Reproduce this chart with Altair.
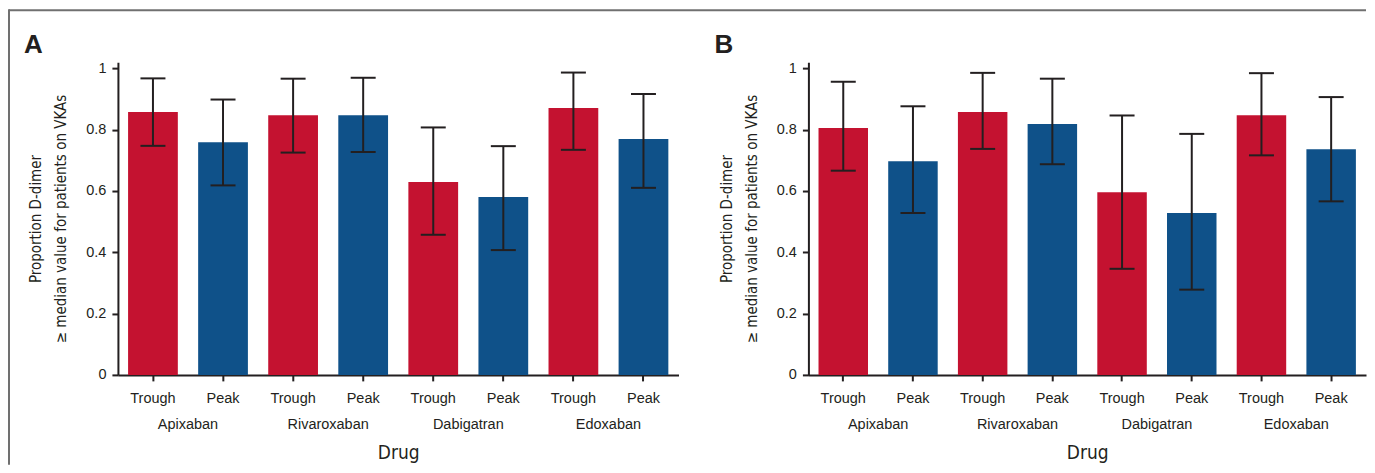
import altair as alt
import pandas as pd

# ---- data ----
drugs = ["Apixaban", "Rivaroxaban", "Dabigatran", "Edoxaban"]
phases = ["Trough", "Peak"]
y_ticks = [0, 0.2, 0.4, 0.6, 0.8, 1]
panel_letters = ["A", "B"]

a_val = [0.857, 0.759, 0.847, 0.847, 0.629, 0.580, 0.870, 0.769]
a_lo = [0.747, 0.618, 0.725, 0.727, 0.457, 0.407, 0.734, 0.610]
a_hi = [0.967, 0.898, 0.966, 0.969, 0.807, 0.746, 0.986, 0.916]

b_val = [0.805, 0.697, 0.857, 0.818, 0.596, 0.528, 0.847, 0.736]
b_lo = [0.666, 0.528, 0.737, 0.687, 0.346, 0.278, 0.716, 0.566]
b_hi = [0.956, 0.876, 0.985, 0.966, 0.846, 0.786, 0.984, 0.906]

y_title = ["Proportion D-dimer", "\u2265 median value for patients on VKAs"]

# ---- styles ----
RED = "#c41230"
BLUE = "#0f5189"
INK = "#231f20"
FRAME = "#707070"
SANS = "Liberation Sans, Arial, Helvetica, sans-serif"
NARROW = "Liberation Sans Narrow, DejaVu Sans Condensed, Roboto Condensed, sans-serif"
H = 313

cats = [f"{d} {p}" for d in drugs for p in phases]


def panel(vals, lo, hi, letter, width, frame):
    df = pd.DataFrame({
        "cat": cats,
        "drug": [d for d in drugs for _ in phases],
        "phase": phases * len(drugs),
        "val": vals,
        "lo": lo,
        "hi": hi,
    })
    xscale = alt.Scale(domain=cats, paddingInner=0.29, paddingOuter=0.145)
    xaxis = alt.Axis(title="Drug", labelExpr="split(datum.label, ' ')[1]",
                     labelAngle=0, labelPadding=11, titlePadding=38,
                     titleFontSize=19)
    yscale = alt.Scale(domain=[0, 1.02], nice=False)
    yaxis = alt.Axis(values=y_ticks, format="~g", title=y_title,
                     titleFontSize=15, titleLineHeight=25, titlePadding=17,
                     labelPadding=6)

    def X():
        return alt.X("cat:N", sort=cats, scale=xscale, axis=xaxis)

    base = alt.Chart(df)
    bars = base.mark_bar().encode(
        x=X(),
        y=alt.Y("val:Q", scale=yscale, axis=yaxis),
        color=alt.Color("phase:N", scale=alt.Scale(domain=phases, range=[RED, BLUE]), legend=None),
    )
    stem = base.mark_rule(color=INK, strokeWidth=2).encode(
        x=X(), y=alt.Y("lo:Q", scale=yscale, axis=yaxis), y2="hi:Q")
    cap_lo = base.mark_tick(color=INK, thickness=2, size=25, opacity=1).encode(
        x=X(), y=alt.Y("lo:Q", scale=yscale, axis=yaxis))
    cap_hi = base.mark_tick(color=INK, thickness=2, size=25, opacity=1).encode(
        x=X(), y=alt.Y("hi:Q", scale=yscale, axis=yaxis))
    core = alt.layer(bars, stem, cap_lo, cap_hi)

    names = alt.Chart(pd.DataFrame({"drug": drugs})).mark_text(
        font=SANS, fontSize=14.5, color=INK, baseline="middle").encode(
        x=alt.X("drug:N", sort=drugs,
                scale=alt.Scale(domain=drugs, paddingInner=0, paddingOuter=0), axis=None),
        y=alt.value(H + 50),
        text="drug:N",
    )
    letter_mark = alt.Chart(pd.DataFrame({"t": [letter]})).mark_text(
        font=SANS, fontSize=26, fontWeight="bold", align="left",
        baseline="alphabetic", color=INK).encode(
        x=alt.value(-94), y=alt.value(-9), text="t:N")

    layers = [core, names, letter_mark]
    if frame:
        one = pd.DataFrame({"k": [0]})
        top = alt.Chart(one).mark_rule(color=FRAME, strokeWidth=2).encode(
            x=alt.value(-109), x2=alt.value(1249), y=alt.value(-52))
        left = alt.Chart(one).mark_rule(color=FRAME, strokeWidth=2).encode(
            x=alt.value(-109), y=alt.value(-53), y2=alt.value(403))
        layers += [top, left]
    return alt.layer(*layers).resolve_scale(x="independent").properties(width=width, height=H)


pa = panel(a_val, a_lo, a_hi, panel_letters[0], 561, True)
pb = panel(b_val, b_lo, b_hi, panel_letters[1], 558, False)

chart = alt.hconcat(pa, pb, spacing=130, bounds="flush").properties(
    padding={"left": 0, "top": 0, "right": 0, "bottom": 0}
).configure_view(stroke=None).configure_axis(
    grid=False,
    domainColor=INK, domainWidth=2,
    tickColor=INK, tickWidth=2, tickSize=6,
    labelColor=INK, labelFont=SANS, labelFontSize=14.5,
    titleColor=INK, titleFont=NARROW, titleFontWeight="normal",
)

chart.save("out.html", embed_options={"renderer": "svg", "actions": False})
